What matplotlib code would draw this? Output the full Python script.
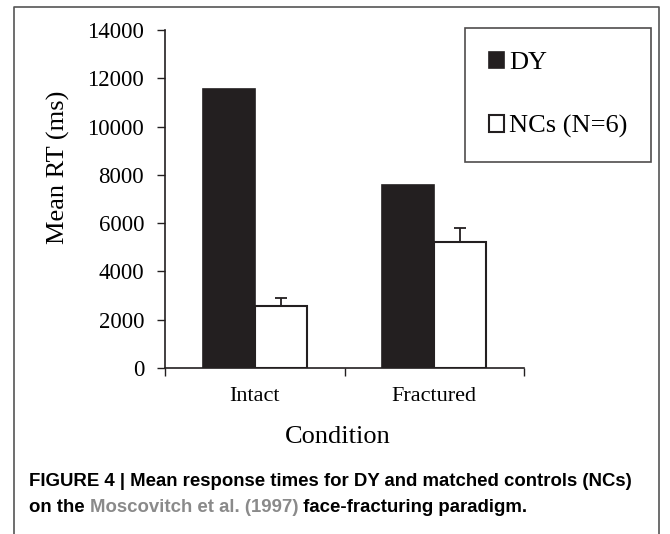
import matplotlib.pyplot as plt
import numpy as np

conditions = ["Intact", "Fractured"]
dy_rt = [11550, 7580]
nc_rt = [2550, 5200]
nc_err = [350, 600]
y_ticks = [0, 2000, 4000, 6000, 8000, 10000, 12000, 14000]

W, H = 670, 534
fig = plt.figure(figsize=(W / 100, H / 100), dpi=100)
serif = ["Liberation Serif", "DejaVu Serif"]

# axes box in pixel terms
left, right, top, bottom = 165, 524, 30, 368
ax = fig.add_axes([left / W, 1 - bottom / H, (right - left) / W, (bottom - top) / H])

x = np.arange(len(conditions))
w = 0.29
ax.bar(x - w / 2, dy_rt, w, color="#231f20", edgecolor="#231f20", linewidth=1.2, label="DY")
ax.bar(x + w / 2, nc_rt, w, color="white", edgecolor="#231f20", linewidth=1.5, label="NCs (N=6)")
ax.errorbar(x + w / 2, nc_rt, yerr=[np.zeros(len(nc_err)), nc_err], fmt="none",
            ecolor="#231f20", elinewidth=1.3, capsize=4.5, capthick=1.3)

ax.set_xlim(-0.5, 1.5)
ax.set_ylim(0, 14000)
ax.set_yticks(y_ticks)
ax.set_yticklabels([str(v) for v in y_ticks], fontfamily=serif, fontsize=16.5)
ax.set_xticks(x)
ax.set_xticklabels(conditions, fontfamily=serif, fontsize=16)
ax.set_xticks([-0.5, 0.5, 1.5], minor=True)
ax.tick_params(axis="x", which="major", length=0, pad=14)
ax.tick_params(axis="x", which="minor", length=6, width=1, direction="out", color="#231f20")
ax.tick_params(axis="y", length=6, width=1, pad=9, color="#231f20")
for s in ["top", "right"]:
    ax.spines[s].set_visible(False)
for s in ["left", "bottom"]:
    ax.spines[s].set_linewidth(1.2)
    ax.spines[s].set_color("#231f20")

ax.set_ylabel("Mean RT (ms)", fontfamily=serif, fontsize=19, va="center")
ax.yaxis.set_label_coords((58 - left) / (right - left), (bottom - 167) / (bottom - top))
ax.set_xlabel("Condition", fontfamily=serif, fontsize=19, va="center")
ax.xaxis.set_label_coords((338 - left) / (right - left), (bottom - 437) / (bottom - top))

leg = ax.legend(loc="upper left", bbox_to_anchor=(465 / W, 1 - 28 / H),
                bbox_transform=fig.transFigure, prop={"family": serif, "size": 19},
                frameon=True, fancybox=False, edgecolor="#231f20", borderpad=0.9,
                labelspacing=1.55, handlelength=0.57, handleheight=0.57,
                handletextpad=0.2, borderaxespad=0)
leg.get_frame().set_linewidth(1.2)

# outer panel border (open at the bottom)
fig.add_artist(plt.Line2D([14 / W, 14 / W, 659 / W, 659 / W],
                          [0, 1 - 7 / H, 1 - 7 / H, 0],
                          transform=fig.transFigure, color="#555555", lw=1.2))

cap = dict(family=["Liberation Sans", "DejaVu Sans"], fontsize=13.4, fontweight="bold")
fig.text(29 / W, 1 - 481 / H, "FIGURE 4 | Mean response times for DY and matched controls (NCs)",
         va="center", ha="left", color="black", **cap)
t1 = fig.text(29 / W, 1 - 508 / H, "on the ", va="center", ha="left", color="black", **cap)
t2 = ax.annotate("Moscovitch et al. (1997)", xy=(1, 0), xycoords=t1, va="bottom", ha="left",
                 color="#8a8a8a", annotation_clip=False, **cap)
ax.annotate(" face-fracturing paradigm.", xy=(1, 0), xycoords=t2, va="bottom", ha="left",
            color="black", annotation_clip=False, **cap)

fig.savefig("out.png", dpi=100)
